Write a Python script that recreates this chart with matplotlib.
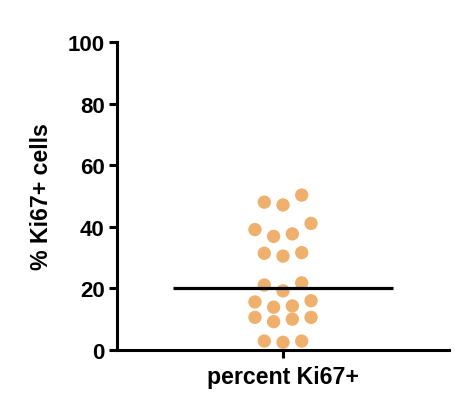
#!/usr/bin/env python3
# -*- coding: utf-8 -*-

import numpy as np
import matplotlib
matplotlib.use("Agg")
import matplotlib.pyplot as plt

# values (% Ki67+ cells, one per sample)
category = "percent Ki67+"
ki67_values = [2.5, 2.9, 2.9, 9.2, 10.0, 10.6, 10.6,
               13.9, 14.3, 15.6, 16.0, 19.2, 21.1, 21.8,
               30.5, 31.4, 31.6, 36.9, 37.7, 39.1, 41.1,
               47.1, 48.0, 50.3]
y_ticks = [0, 20, 40, 60, 80, 100]


def scatter_rows(values, row_gap=3.0, step=0.1127):
    """Prism-like column scatter: group close values into rows, centre each row"""
    order = np.argsort(values)
    vals = np.asarray(values)[order]
    rows, current = [], [0]
    for i in range(1, len(vals)):
        if vals[i] - vals[i - 1] > row_gap:
            rows.append(current)
            current = []
        current.append(i)
    rows.append(current)

    offsets = np.zeros(len(vals))
    for row in rows:
        n = len(row)
        slots = (np.arange(n) - (n - 1) / 2.0) * step
        # fill from the centre outwards, left side first
        slots = sorted(slots, key=lambda s: (round(abs(s), 6), s))
        for idx, s in zip(row, slots):
            offsets[idx] = s
    return offsets, vals


plt.rcParams['font.family'] = ['Liberation Sans', 'DejaVu Sans']
plt.rcParams['font.weight'] = 'bold'

fig = plt.figure(figsize=(4.56, 4.10), dpi=100)
ax = fig.add_axes([0.2566, 0.1439, 0.7280, 0.7512])

x_off, y_vals = scatter_rows(ki67_values)
ax.scatter(x_off, y_vals, s=92, color='#efb06e', edgecolors='none', zorder=3,
           clip_on=False)

median = np.median(ki67_values)
ax.hlines(median, -0.663, 0.663, color='black', linewidth=2.3, zorder=4)

ax.set_xlim(-1, 1)
ax.set_ylim(0, 100)
ax.set_yticks(y_ticks)
ax.set_xticks([0])
ax.set_xticklabels([category])

for side in ['top', 'right']:
    ax.spines[side].set_visible(False)
for side in ['left', 'bottom']:
    ax.spines[side].set_linewidth(2.2)
    ax.spines[side].set_capstyle('projecting')

ax.tick_params(axis='both', direction='out', length=6, width=2.2,
               labelsize=16, pad=3)
ax.tick_params(axis='x', labelsize=16.7, pad=5)
for lab in ax.get_xticklabels() + ax.get_yticklabels():
    lab.set_fontweight('bold')

ax.set_ylabel('% Ki67+ cells', fontsize=16.7, fontweight='bold', labelpad=10)

fig.savefig('out.png', dpi=100, facecolor='white')
